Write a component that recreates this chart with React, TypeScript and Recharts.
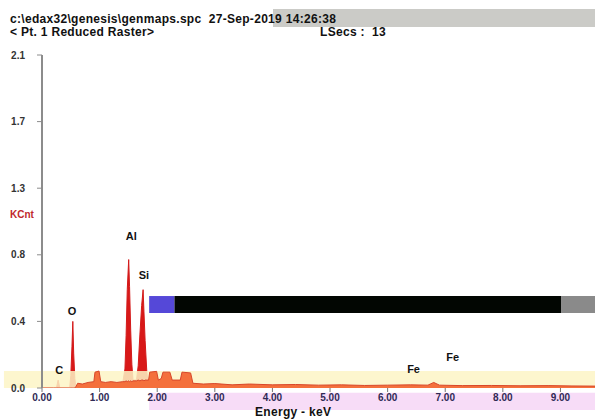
import React from "react";
import {
  ComposedChart,
  Area,
  XAxis,
  YAxis,
  ReferenceArea,
  ReferenceDot,
} from "recharts";

// Energy grid (keV)
const energy = [
  0.0, 0.2, 0.25, 0.28, 0.31, 0.48, 0.5, 0.52, 0.535, 0.55, 0.57, 0.59, 0.62, 0.7, 0.8, 0.9,
  0.92, 0.99, 1.02, 1.1, 1.2, 1.3, 1.4, 1.44, 1.46, 1.48, 1.505, 1.52, 1.54, 1.56, 1.58, 1.64,
  1.67, 1.7, 1.73, 1.755, 1.77, 1.79, 1.82, 1.85, 1.87, 1.99, 2.02, 2.07, 2.1, 2.22, 2.26, 2.4,
  2.43, 2.58, 2.62, 2.8, 3.0, 3.3, 3.6, 4.0, 4.4, 4.8, 5.2, 5.6, 6.0, 6.4, 6.7, 6.8, 6.9, 7.3,
  7.8, 8.3, 8.8, 9.2, 9.6,
];
// Element peaks (KCnt)
const peakCounts = [
  0, 0, 0, 0.05, 0, 0, 0.08, 0.26, 0.42, 0.22, 0.06, 0, 0, 0, 0, 0,
  0, 0, 0, 0, 0, 0, 0.03, 0.12, 0.33, 0.62, 0.81, 0.64, 0.36, 0.15, 0.05, 0.05,
  0.14, 0.34, 0.52, 0.62, 0.48, 0.3, 0.1, 0.02, 0, 0, 0, 0, 0, 0, 0, 0,
  0, 0, 0, 0, 0, 0, 0, 0, 0, 0, 0, 0, 0, 0, 0, 0, 0, 0,
  0, 0, 0, 0, 0,
];
// Background continuum (KCnt)
const bgCounts = [
  0, 0, 0, 0, 0, 0, 0, 0, 0, 0, 0, 0.01, 0.03, 0.025, 0.035, 0.04,
  0.1, 0.107, 0.04, 0.035, 0.04, 0.035, 0.04, 0.04, 0.045, 0.04, 0.045, 0.04, 0.045, 0.04, 0.045, 0.045,
  0.05, 0.045, 0.05, 0.05, 0.045, 0.05, 0.05, 0.05, 0.1, 0.105, 0.05, 0.06, 0.1, 0.1, 0.05, 0.05,
  0.1, 0.095, 0.03, 0.025, 0.028, 0.02, 0.025, 0.02, 0.022, 0.018, 0.02, 0.016, 0.018, 0.02, 0.018, 0.035, 0.018, 0.015,
  0.016, 0.014, 0.015, 0.013, 0.012,
];

const xTicks = [0, 1, 2, 3, 4, 5, 6, 7, 8, 9];
const yTicks = [0, 0.42, 0.84, 1.26, 1.68, 2.1];

const peakNames = ["C", "O", "Al", "Si", "Fe", "Fe"];
const peakLabelE = [0.3, 0.52, 1.55, 1.77, 6.45, 7.13];
const peakLabelY = [0.113, 0.485, 0.96, 0.71, 0.12, 0.195];

const data = energy.map((e, i) => ({ e, peak: peakCounts[i], bg: bgCounts[i] }));

const FONT = "'Liberation Sans', Arial, sans-serif";
const headerStyle: React.CSSProperties = {
  position: "absolute",
  fontSize: 12,
  letterSpacing: 0.3,
  fontWeight: 700,
  color: "#111",
  whiteSpace: "pre",
  lineHeight: "14px",
};

export default function App() {
  return (
    <div style={{ position: "absolute", left: 0, top: 0, width: 595, height: 420, background: "#fff", fontFamily: FONT, overflow: "hidden" }}>
      <div style={{ position: "absolute", left: 273, top: 9, width: 322, height: 18, background: "#cbcbc7" }} />
      <div style={{ ...headerStyle, left: 10, top: 12 }}>
        {"c:\\edax32\\genesis\\genmaps.spc  27-Sep-2019 14:26:38"}
      </div>
      <div style={{ ...headerStyle, left: 10, top: 25 }}>
        {"< Pt. 1 Reduced Raster>"}
      </div>
      <div style={{ ...headerStyle, left: 320, top: 25 }}>
        {"LSecs :  13"}
      </div>
      <div style={{ position: "absolute", left: 10, top: 209, fontSize: 10, fontWeight: 700, color: "#c0282c" }}>KCnt</div>
      <div style={{ position: "absolute", left: 0, top: 0 }}>
        <ComposedChart width={595} height={420} data={data} margin={{ top: 55, right: 0, bottom: 0, left: 0 }}>
          <XAxis
            type="number"
            dataKey="e"
            domain={[0, 9.6]}
            ticks={xTicks}
            allowDataOverflow
            height={32}
            axisLine={false}
            tickSize={4}
            tickLine={{ stroke: "#777" }}
            tickMargin={2}
            tickFormatter={(v: number) => v.toFixed(2)}
            tick={{ fontSize: 10, fontWeight: 700, fill: "#2f2a55", fontFamily: FONT }}
          />
          <YAxis
            type="number"
            domain={[0, 2.1]}
            ticks={yTicks}
            allowDataOverflow
            width={42}
            axisLine={{ stroke: "#8c8c8c", strokeWidth: 2 }}
            tickLine={{ stroke: "#8c8c8c" }}
            tickSize={5}
            tickMargin={12}
            tickFormatter={(v: number) => v.toFixed(1)}
            tick={{ fontSize: 10, fontWeight: 700, fill: "#333", fontFamily: FONT }}
          />
          <ReferenceArea x1={1.86} x2={2.3} y1={0.473} y2={0.58} fill="#5548d8" fillOpacity={1} stroke="none" />
          <ReferenceArea x1={2.3} x2={9.01} y1={0.473} y2={0.58} fill="#020602" fillOpacity={1} stroke="none" />
          <ReferenceArea x1={9.01} x2={9.6} y1={0.473} y2={0.58} fill="#8a8a8a" fillOpacity={1} stroke="none" />
          <ReferenceArea x1={1.86} x2={9.6} y1={-0.139} y2={-0.03} fill="#f7dcf7" fillOpacity={1} stroke="none" ifOverflow="visible" />
          <Area
            type="linear"
            dataKey="peak"
            stroke="#d41a1a"
            strokeWidth={1}
            fill="#d81818"
            fillOpacity={1}
            isAnimationActive={false}
            dot={false}
            activeDot={false}
          />
          <ReferenceArea x1={-0.66} x2={9.6} y1={0} y2={0.107} fill="#fdf4c6" fillOpacity={0.85} stroke="none" ifOverflow="visible" />
          <Area
            type="linear"
            dataKey="bg"
            stroke="#d8462a"
            strokeWidth={1}
            fill="#f4703c"
            fillOpacity={1}
            isAnimationActive={false}
            dot={false}
            activeDot={false}
          />
          {peakNames.map((n, i) => (
            <ReferenceDot
              key={i}
              x={peakLabelE[i]}
              y={peakLabelY[i]}
              r={0}
              fill="none"
              stroke="none"
              ifOverflow="visible"
              label={{ value: n, position: "center", fontSize: 11, fontWeight: 700, fill: "#111", fontFamily: FONT }}
            />
          ))}
        </ComposedChart>
      </div>
      <div style={{ ...headerStyle, left: 255, top: 405 }}>
        {"Energy - keV"}
      </div>
    </div>
  );
}
